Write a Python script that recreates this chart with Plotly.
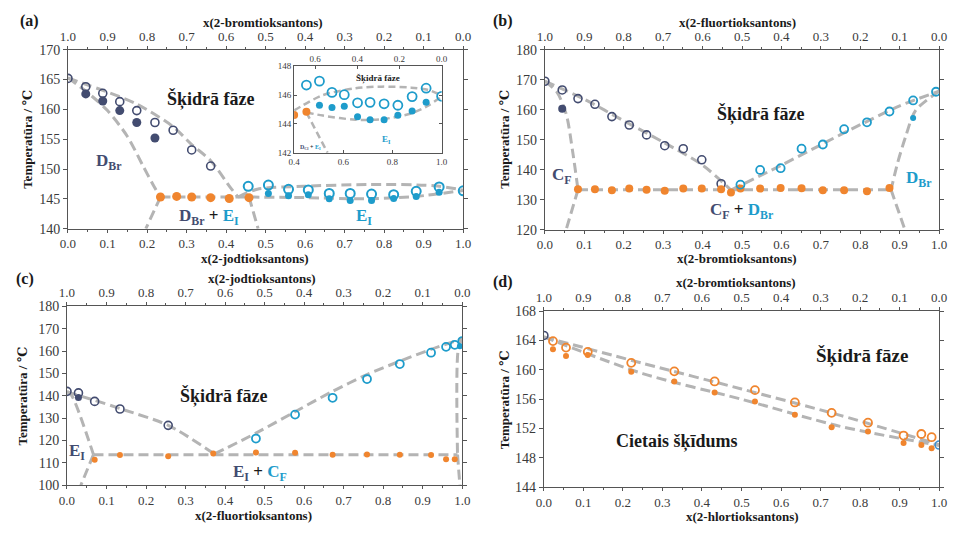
import plotly.graph_objects as go

W, H = 956, 537
FONT = "Liberation Serif, DejaVu Serif, serif"
NAVY = "#434c70"
BLUE = "#1e9ccb"
ORANGE = "#f0852e"
GUIDE = "#b4b4b4"
TXT = "#1a1a1a"

# ---------------- (a) 2-jodtioksantons / 2-bromtioksantons ----------------
a_liqD_x = [0.0, 0.045, 0.088, 0.131, 0.174, 0.22, 0.266, 0.313, 0.361]
a_liqD_T = [165.2, 163.8, 162.7, 161.3, 159.8, 157.8, 156.5, 153.2, 150.5]
a_solD_x = [0.045, 0.088, 0.131, 0.174, 0.22]
a_solD_T = [162.6, 161.4, 159.8, 157.8, 155.2]
a_eut_x = [0.234, 0.275, 0.313, 0.361, 0.408, 0.458]
a_eut_T = [145.3, 145.4, 145.3, 145.2, 145.05, 145.2]
a_liqE_x = [0.456, 0.507, 0.558, 0.608, 0.661, 0.714, 0.768, 0.824, 0.881, 0.939, 1.0]
a_liqE_T = [147.1, 147.3, 146.6, 146.5, 145.9, 145.9, 145.8, 145.7, 146.25, 147.0, 146.35]
a_solE_x = [0.507, 0.558, 0.608, 0.661, 0.714, 0.768, 0.824, 0.881, 0.939]
a_solE_T = [145.9, 145.5, 145.7, 145.0, 144.7, 144.7, 145.05, 145.4, 146.1]

# guide curves (a)
a_g_liqD = ([0.0, 0.045, 0.088, 0.174, 0.266, 0.313, 0.361, 0.412, 0.43],
            [165.3, 164.2, 163.2, 160.9, 157.1, 154.1, 151.4, 146.8, 145.3])
a_g_solD = ([0.0, 0.05, 0.1, 0.15, 0.19, 0.22, 0.234],
            [165.3, 162.8, 159.8, 155.5, 150.5, 146.8, 145.3])
a_g_solvD = ([0.234, 0.197], [145.3, 140.0])
a_g_eut = ([0.234, 0.458], [145.3, 145.3])
a_g_solvE = ([0.458, 0.481], [145.3, 140.0])
a_g_liqE = ([0.43, 0.479, 0.595, 0.761, 0.927, 1.0],
            [145.3, 146.6, 147.1, 147.4, 147.2, 146.45])
a_g_solE = ([0.458, 0.6, 0.75, 0.88, 1.0], [145.3, 145.2, 145.0, 145.4, 146.4])

# inset (a)
in_eut_x = [0.4, 0.45]
in_eut_T = [144.62, 144.85]
in_liq_x = [0.45, 0.503, 0.554, 0.604, 0.658, 0.709, 0.766, 0.822, 0.88, 0.937, 1.0]
in_liq_T = [146.7, 146.97, 146.19, 146.03, 145.47, 145.5, 145.4, 145.3, 145.9, 146.48, 145.92]
in_sol_x = [0.503, 0.554, 0.604, 0.658, 0.709, 0.766, 0.822, 0.88, 0.937]
in_sol_T = [145.3, 145.14, 145.23, 144.5, 144.3, 144.3, 144.6, 144.9, 145.5]
in_g_up = ([0.4, 0.517, 0.65, 0.757, 0.876, 0.943, 1.0],
           [144.94, 146.0, 146.48, 146.59, 146.52, 146.37, 145.99])
in_g_low = ([0.45, 0.517, 0.65, 0.757, 0.876, 0.943, 1.0],
            [144.8, 144.58, 144.29, 144.33, 144.73, 145.25, 145.92])
in_g_solv = ([0.45, 0.536], [144.8, 142.0])

# ---------------- (b) 2-bromtioksantons / 2-fluortioksantons ----------------
b_liqC_x = [0.0, 0.044, 0.084, 0.127, 0.17, 0.214, 0.258, 0.304, 0.351, 0.398, 0.447]
b_liqC_T = [169.5, 166.6, 163.7, 161.8, 157.7, 154.9, 151.6, 148.0, 147.0, 143.3, 135.3]
b_solC_x = [0.044]
b_solC_T = [160.3]
b_eut_x = [0.084, 0.127, 0.17, 0.214, 0.258, 0.304, 0.351, 0.398, 0.447, 0.472,
           0.496, 0.546, 0.598, 0.651, 0.705, 0.759, 0.817, 0.874]
b_eut_T = [133.5, 133.5, 133.1, 133.7, 133.3, 133.0, 133.7, 133.7, 133.5, 132.4,
           133.7, 133.7, 133.9, 133.8, 133.1, 133.1, 132.8, 133.9]
b_liqD_x = [0.496, 0.546, 0.598, 0.651, 0.705, 0.759, 0.817, 0.874, 0.934, 0.992]
b_liqD_T = [135.0, 139.9, 140.5, 147.0, 148.4, 153.5, 155.8, 159.4, 163.1, 166.0]
b_solD_x = [0.934]
b_solD_T = [157.2]

b_g_liqC = ([0.0, 0.1, 0.2, 0.3, 0.4, 0.472], [169.5, 163.5, 156.3, 149.2, 141.5, 133.2])
b_g_liqD = ([0.472, 0.6, 0.7, 0.8, 0.9, 1.0], [133.2, 141.5, 148.3, 155.0, 161.3, 166.2])
b_g_eut = ([0.084, 0.878], [133.3, 133.3])
b_g_solC = ([0.0, 0.03, 0.054, 0.071, 0.084], [169.5, 166.0, 158.6, 145.6, 133.3])
b_g_solvC = ([0.084, 0.054], [133.3, 120.0])
b_g_solD = ([1.0, 0.94, 0.915, 0.895, 0.878], [166.2, 159.7, 151.0, 142.4, 133.3])
b_g_solvD = ([0.878, 0.913], [133.3, 120.0])

# ---------------- (c) 2-fluortioksantons / 2-jodtioksantons ----------------
c_liqE_x = [0.0, 0.029, 0.07, 0.134, 0.256]
c_liqE_T = [142.0, 141.3, 137.5, 134.1, 126.8]
c_solE_x = [0.029]
c_solE_T = [139.3]
c_eut_x = [0.07, 0.134, 0.256, 0.37, 0.478, 0.577, 0.672, 0.759, 0.842, 0.921, 0.959, 0.981]
c_eut_T = [111.4, 113.5, 113.0, 114.2, 114.6, 114.5, 113.6, 113.8, 113.6, 113.5, 111.6, 111.6]
c_liqC_x = [0.478, 0.577, 0.672, 0.759, 0.842, 0.921, 0.959, 0.981, 1.0]
c_liqC_T = [120.9, 131.6, 139.1, 147.5, 154.2, 159.3, 161.9, 162.8, 164.5]
c_solC_x = [0.994]
c_solC_T = [162.2]

c_g_liqE = ([0.0, 0.07, 0.134, 0.256, 0.373], [141.7, 138.0, 134.3, 126.8, 114.0])
c_g_liqC = ([0.373, 0.478, 0.577, 0.672, 0.759, 0.842, 0.921, 1.0],
            [114.0, 123.3, 132.9, 142.0, 149.5, 155.5, 160.8, 165.5])
c_g_eut = ([0.067, 0.988], [113.7, 113.7])
c_g_solE = ([0.0, 0.012, 0.067], [142.0, 140.1, 113.7])
c_g_solvE = ([0.067, 0.035], [113.7, 100.0])
c_g_solC = ([1.0, 0.99, 0.988], [165.5, 161.0, 113.7])
c_g_solvC = ([0.988, 0.994], [113.7, 100.0])

# ---------------- (d) 2-hlortioksantons / 2-bromtioksantons ----------------
d_x = [0.023, 0.056, 0.111, 0.221, 0.33, 0.432, 0.534, 0.635, 0.728, 0.82, 0.91, 0.955, 0.981]
d_liq_T = [163.93, 163.04, 162.46, 160.96, 159.8, 158.43, 157.24, 155.56, 154.14, 152.8,
           151.04, 151.26, 150.82]
d_sol_T = [162.82, 161.89, 162.02, 159.76, 158.43, 156.93, 155.69, 153.87, 152.19, 151.61,
           150.02, 149.75, 149.31]
d_pureBr = ([0.0], [164.7])
d_pureCl = ([1.0], [149.75])
d_g_up = ([0.0, 0.25, 0.5, 0.75, 1.0], [164.5, 160.9, 157.4, 153.8, 149.8])
d_g_low = ([0.0, 0.25, 0.5, 0.75, 1.0], [164.5, 159.5, 156.0, 152.3, 149.7])


def dx(l, r):
    return [l / W, r / W]


def dy(t, b):
    return [1 - b / H, 1 - t / H]


fig = go.Figure()


def guide(curve, xa, ya, width=3, dash="10px,5px"):
    fig.add_trace(go.Scatter(x=curve[0], y=curve[1], mode="lines", xaxis=xa, yaxis=ya,
                             line=dict(color=GUIDE, width=width, dash=dash, shape="spline",
                                       smoothing=0.8),
                             hoverinfo="skip", showlegend=False))


def pts(x, y, xa, ya, color, filled, size=8, lw=1.8):
    if filled:
        m = dict(symbol="circle", size=size, color=color, line=dict(width=0))
    else:
        m = dict(symbol="circle-open", size=size, color=color, line=dict(width=lw, color=color))
    fig.add_trace(go.Scatter(x=x, y=y, mode="markers", xaxis=xa, yaxis=ya, marker=m,
                             showlegend=False))


def bind_axis(xa, ya):
    # an empty trace so the secondary (top) composition axis is drawn
    fig.add_trace(go.Scatter(x=[], y=[], mode="markers", xaxis=xa, yaxis=ya,
                             showlegend=False, hoverinfo="skip"))


# (a) main
for c in [a_g_liqD, a_g_solD, a_g_solvD, a_g_eut, a_g_solvE, a_g_liqE, a_g_solE]:
    guide(c, "x", "y")
pts(a_liqD_x, a_liqD_T, "x", "y", NAVY, False, 8, 1.6)
pts(a_solD_x, a_solD_T, "x", "y", NAVY, True, 9)
pts(a_eut_x, a_eut_T, "x", "y", ORANGE, True, 9)
pts(a_liqE_x, a_liqE_T, "x", "y", BLUE, False, 9, 2)
pts(a_solE_x, a_solE_T, "x", "y", BLUE, True, 7)
bind_axis("x2", "y")

# (a) inset
for c in [in_g_up, in_g_low, in_g_solv]:
    guide(c, "x3", "y2", width=2.5, dash="7px,4px")
pts(in_liq_x, in_liq_T, "x3", "y2", BLUE, False, 9, 1.8)
pts(in_sol_x, in_sol_T, "x3", "y2", BLUE, True, 7)
pts(in_eut_x, in_eut_T, "x3", "y2", ORANGE, True, 8)
bind_axis("x4", "y2")

# (b)
for c in [b_g_liqC, b_g_liqD, b_g_eut, b_g_solC, b_g_solvC, b_g_solD, b_g_solvD]:
    guide(c, "x5", "y3")
pts(b_liqC_x, b_liqC_T, "x5", "y3", NAVY, False, 8, 1.6)
pts(b_solC_x, b_solC_T, "x5", "y3", NAVY, True, 8)
pts(b_eut_x, b_eut_T, "x5", "y3", ORANGE, True, 8)
pts(b_liqD_x, b_liqD_T, "x5", "y3", BLUE, False, 8, 1.8)
pts(b_solD_x, b_solD_T, "x5", "y3", BLUE, True, 6)
bind_axis("x6", "y3")

# (c)
for c in [c_g_liqE, c_g_liqC, c_g_eut, c_g_solE, c_g_solvE, c_g_solC, c_g_solvC]:
    guide(c, "x7", "y4")
pts(c_liqE_x, c_liqE_T, "x7", "y4", NAVY, False, 8, 1.6)
pts(c_solE_x, c_solE_T, "x7", "y4", NAVY, True, 7)
pts(c_eut_x, c_eut_T, "x7", "y4", ORANGE, True, 6)
pts(c_liqC_x, c_liqC_T, "x7", "y4", BLUE, False, 8, 1.8)
pts(c_solC_x, c_solC_T, "x7", "y4", BLUE, True, 6)
bind_axis("x8", "y4")

# (d)
for c in [d_g_up, d_g_low]:
    guide(c, "x9", "y5")
pts(d_x, d_liq_T, "x9", "y5", ORANGE, False, 8, 1.8)
pts(d_x, d_sol_T, "x9", "y5", ORANGE, True, 6)
pts(d_pureBr[0], d_pureBr[1], "x9", "y5", NAVY, False, 8, 1.6)
pts(d_pureCl[0], d_pureCl[1], "x9", "y5", "#3d8fd0", False, 8, 1.6)
bind_axis("x10", "y5")

# ---------------- axes ----------------
YFONT = dict(family=FONT, size=14, color="#3a3a3a")
XFONT = dict(family=FONT, size=13, color="#3a3a3a")
AXCOL = "#555555"


def xbottom(domain, anchor):
    return dict(domain=domain, anchor=anchor, range=[0, 1], dtick=0.1, tickformat=".1f",
                showline=True, linecolor=AXCOL, linewidth=1, ticks="outside", ticklen=3,
                tickcolor=AXCOL, showgrid=False, zeroline=False, tickfont=XFONT,
                minor=dict(dtick=0.05, ticklen=2, tickcolor=AXCOL, ticks="outside"))


def xtop(overlay, anchor):
    return dict(overlaying=overlay, anchor=anchor, side="top", range=[1, 0], dtick=0.1,
                tickformat=".1f", showline=True, linecolor=AXCOL, linewidth=1,
                ticks="outside", ticklen=3, tickcolor=AXCOL, showgrid=False,
                zeroline=False, tickfont=XFONT,
                minor=dict(dtick=0.05, ticklen=2, tickcolor=AXCOL, ticks="outside"))


def yax(domain, anchor, rng, dtick):
    return dict(domain=domain, anchor=anchor, range=rng, dtick=dtick, showline=True,
                linecolor=AXCOL, linewidth=1, mirror="ticks", ticks="outside", ticklen=4,
                tickcolor=AXCOL, showgrid=False, zeroline=False, tickfont=YFONT)


INSET_FONT = dict(family=FONT, size=9, color="#3a3a3a")

fig.update_layout(
    width=W, height=H, autosize=False,
    margin=dict(l=0, r=0, t=0, b=0),
    paper_bgcolor="white", plot_bgcolor="white",
    font=dict(family=FONT),
    xaxis=xbottom(dx(61, 463), "y"),
    xaxis2=xtop("x", "y"),
    yaxis=yax(dy(44, 228), "x", [140, 170], 5),
    xaxis3=dict(domain=dx(291, 441), anchor="y2", range=[0.4, 1.0], dtick=0.2,
                tickformat=".1f", showline=True, linecolor=AXCOL, linewidth=1,
                ticks="inside", ticklen=3, tickcolor=AXCOL, showgrid=False, zeroline=False,
                tickfont=INSET_FONT, mirror=False),
    xaxis4=dict(overlaying="x3", anchor="y2", side="top", range=[0.7, 0.0],
                tickvals=[0.6, 0.4, 0.2, 0.0], ticktext=["0.6", "0.4", "0.2", "0.0"],
                showline=True, linecolor=AXCOL, linewidth=1, ticks="inside", ticklen=3,
                tickcolor=AXCOL, showgrid=False, zeroline=False, tickfont=INSET_FONT),
    yaxis2=dict(domain=dy(61, 150), anchor="x3", range=[142, 148], dtick=2, showline=True,
                linecolor=AXCOL, linewidth=1, mirror="ticks", ticks="inside", ticklen=3,
                tickcolor=AXCOL, showgrid=False, zeroline=False, tickfont=INSET_FONT),
    xaxis5=xbottom(dx(546, 947), "y3"),
    xaxis6=xtop("x5", "y3"),
    yaxis3=yax(dy(44, 229), "x5", [120, 180], 10),
    xaxis7=xbottom(dx(60, 462), "y4"),
    xaxis8=xtop("x7", "y4"),
    yaxis4=yax(dy(308, 492), "x7", [100, 180], 10),
    xaxis9=xbottom(dx(545, 947), "y5"),
    xaxis10=xtop("x9", "y5"),
    yaxis5=yax(dy(313, 494), "x9", [144, 168], 4),
)

# ---------------- text ----------------
ann = []


def ptext(text, px, py, size=13, angle=0, color=TXT):
    ann.append(dict(text=text, x=px / W, y=1 - py / H, xref="paper", yref="paper",
                    showarrow=False, textangle=angle, xanchor="center", yanchor="middle",
                    font=dict(family=FONT, size=size, color=color)))


def dtext(text, x, y, xa, ya, size=17, color=TXT):
    ann.append(dict(text=text, x=x, y=y, xref=xa, yref=ya, showarrow=False,
                    xanchor="center", yanchor="middle",
                    font=dict(family=FONT, size=size, color=color)))


def span(t, c):
    return f"<span style='color:{c}'>{t}</span>"


DBr_n = span("D<sub>Br</sub>", NAVY)
DBr_b = span("D<sub>Br</sub>", BLUE)
EI_n = span("E<sub>I</sub>", NAVY)
EI_b = span("E<sub>I</sub>", BLUE)
CF_n = span("C<sub>F</sub>", NAVY)
CF_b = span("C<sub>F</sub>", BLUE)

ylab = "<b>Temperatūra / ℃</b>"

# panel letters
ptext("<b>(a)</b>", 22, 14, 16)
ptext("<b>(b)</b>", 503, 14, 16)
ptext("<b>(c)</b>", 17, 280, 16)
ptext("<b>(d)</b>", 503, 283, 16)

# axis titles
ptext("<b>x(2-bromtioksantons)</b>", 259, 16)
ptext("<b>x(2-jodtioksantons)</b>", 251, 259)
ptext(ylab, 20, 136, angle=-90)
ptext("<b>x(2-fluortioksantons)</b>", 742, 16)
ptext("<b>x(2-bromtioksantons)</b>", 741, 259)
ptext(ylab, 505, 136, angle=-90)
ptext("<b>x(2-jodtioksantons)</b>", 258, 279)
ptext("<b>x(2-fluortioksantons)</b>", 250, 523)
ptext(ylab, 15, 400, angle=-90)
ptext("<b>x(2-bromtioksantons)</b>", 740, 283)
ptext("<b>x(2-hlortioksantons)</b>", 747, 524)
ptext(ylab, 505, 404, angle=-90)

# region labels (a)
dtext("<b>Šķidrā fāze</b>", 0.363, 161.7, "x", "y", 18)
dtext("<b>" + DBr_n + "</b>", 0.105, 151.1, "x", "y", 17)
dtext("<b>" + DBr_n + " + " + EI_b + "</b>", 0.356, 141.9, "x", "y", 17)
dtext("<b>" + EI_b + "</b>", 0.749, 141.9, "x", "y", 17)
# inset labels
dtext("<b>Šķidrā fāze</b>", 0.743, 147.15, "x3", "y2", 9)
dtext("<b>" + EI_b + "</b>", 0.776, 142.9, "x3", "y2", 9)
dtext("<b>" + span("D<sub>Cl</sub>", NAVY) + " + " + EI_b + "</b>", 0.466, 142.4,
      "x3", "y2", 6)

# region labels (b)
dtext("<b>Šķidrā fāze</b>", 0.547, 158.6, "x5", "y3", 18)
dtext("<b>" + CF_n + "</b>", 0.044, 138.0, "x5", "y3", 17)
dtext("<b>" + DBr_b + "</b>", 0.949, 137.0, "x5", "y3", 17)
dtext("<b>" + CF_n + " + " + DBr_b + "</b>", 0.499, 126.3, "x5", "y3", 17)

# region labels (c)
dtext("<b>Šķidrā fāze</b>", 0.398, 139.9, "x7", "y4", 18)
dtext("<b>" + EI_n + "</b>", 0.026, 114.8, "x7", "y4", 17)
dtext("<b>" + EI_n + " + " + CF_b + "</b>", 0.488, 105.7, "x7", "y4", 17)
dtext("<b>" + CF_b + "</b>", 1.008, 116.5, "x7", "y4", 17)

# region labels (d)
dtext("<b>Šķidrā fāze</b>", 0.805, 161.9, "x9", "y5", 19)
dtext("<b>Cietais šķīdums</b>", 0.336, 150.3, "x9", "y5", 18)

fig.update_layout(annotations=ann)

fig.write_html("out.html")
